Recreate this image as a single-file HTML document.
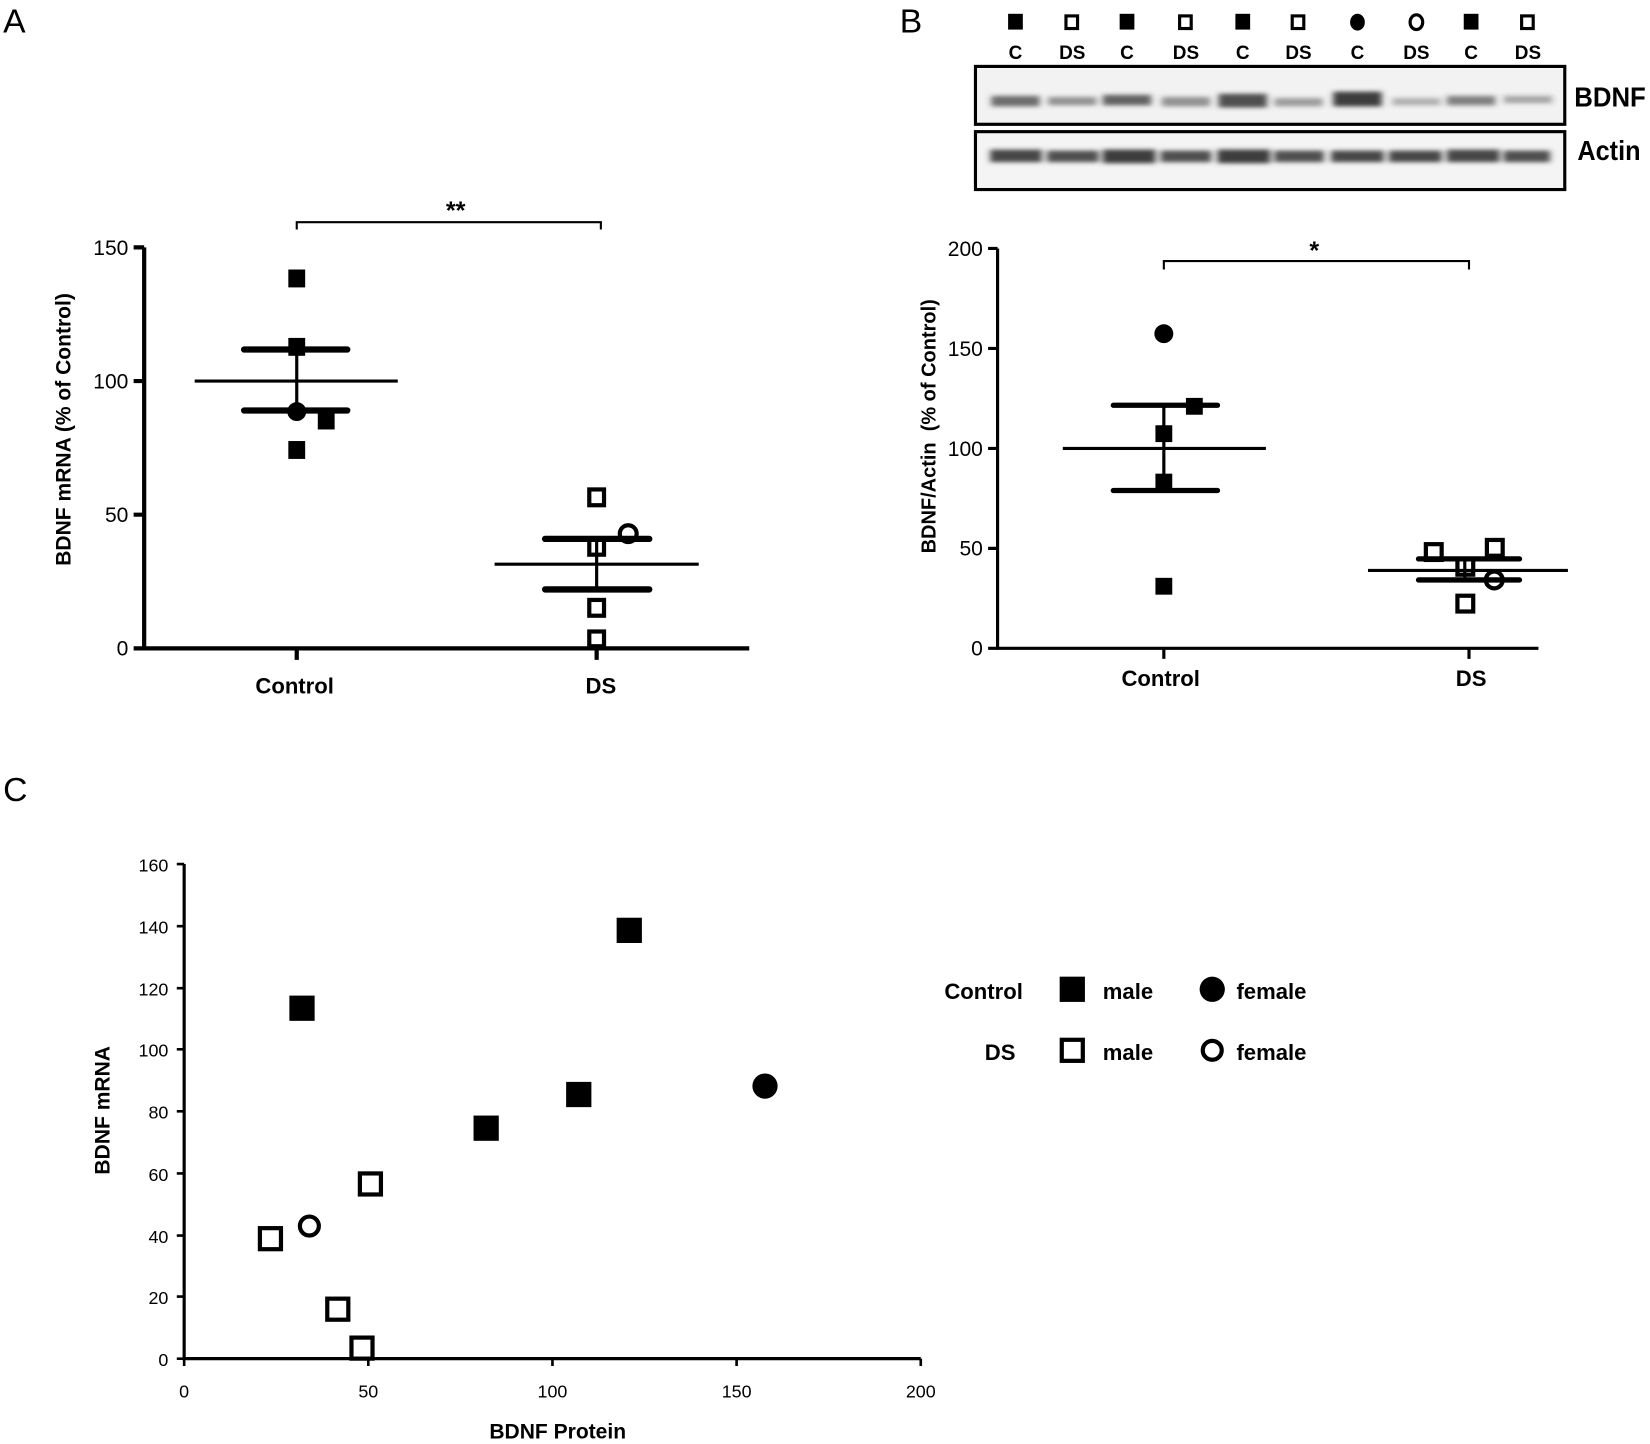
<!DOCTYPE html>
<html><head><style>html,body{margin:0;padding:0;background:#fff}svg{display:block}text{font-family:"Liberation Sans",Arial,sans-serif;fill:#000}</style></head>
<body>
<svg width="1650" height="1444" viewBox="0 0 1568 1372" xmlns="http://www.w3.org/2000/svg">
<defs><filter id="bl"><feGaussianBlur stdDeviation="3 2"/></filter></defs>
<rect x="929" y="65" width="556" height="52" fill="#f2f2f2"/>
<rect x="929" y="127" width="556" height="51" fill="#f4f4f4"/>
<g stroke="#000" fill="none">
<path d="M137 235V616H712" stroke-width="4"/>
<path d="M127 235H137M127 362H137M127 489H137M127 616H137M282 616V627M567 616V627" stroke-width="4"/>
<path d="M282 218V211H571V218" stroke-width="2"/>
<path d="M185 362H378M282 332V388" stroke-width="3"/>
<path d="M232 332H330M232 390H330" stroke-width="6" stroke-linecap="round"/>
<path d="M470 536H664M567 512V560" stroke-width="3"/>
<path d="M518 512H617M518 560H617" stroke-width="6" stroke-linecap="round"/>
<path d="M948 236V616H1462" stroke-width="3"/>
<path d="M939 236H948M939 331H948M939 426H948M939 521H948M939 616H948M1106 616V626M1396 616V626" stroke-width="3"/>
<path d="M1106 256V248H1396V256" stroke-width="2"/>
<path d="M1010 426H1203M1106 385V466" stroke-width="3"/>
<path d="M1058 385H1157M1058 466H1157" stroke-width="5" stroke-linecap="round"/>
<path d="M1300 542H1490M1392 531V551" stroke-width="3"/>
<path d="M1348 531H1444M1348 551H1444" stroke-width="5" stroke-linecap="round"/>
<path d="M175 821V1291H875" stroke-width="3"/>
<path d="M168 821H175M168 880H175M168 939H175M168 997H175M168 1056H175M168 1115H175M168 1174H175M168 1232H175M168 1291H175M175 1291V1298M350 1291V1298M525 1291V1298M700 1291V1298M875 1291V1298" stroke-width="2.5"/>
<rect x="927" y="63" width="560" height="55" stroke-width="3"/>
<rect x="927" y="125" width="560" height="55" stroke-width="3"/>
</g>
<g filter="url(#bl)" fill="#333">
<rect x="942" y="91" width="46" height="10" opacity=".7"/><rect x="996" y="92" width="46" height="8" opacity=".5"/>
<rect x="1048" y="90" width="46" height="10" opacity=".75"/><rect x="1104" y="92" width="46" height="9" opacity=".5"/>
<rect x="1158" y="89" width="46" height="13" opacity=".85"/><rect x="1211" y="93" width="46" height="8" opacity=".45"/>
<rect x="1267" y="87" width="46" height="14" opacity=".95"/><rect x="1323" y="93" width="46" height="7" opacity=".35"/>
<rect x="1375" y="91" width="46" height="9" opacity=".6"/><rect x="1429" y="91" width="46" height="7" opacity=".4"/>
<rect x="941" y="142" width="49" height="12" opacity=".9"/><rect x="995" y="143" width="49" height="11" opacity=".85"/>
<rect x="1048" y="142" width="50" height="13" opacity=".95"/><rect x="1103" y="143" width="48" height="11" opacity=".85"/>
<rect x="1157" y="142" width="50" height="13" opacity=".95"/><rect x="1211" y="143" width="47" height="11" opacity=".85"/>
<rect x="1265" y="143" width="50" height="11" opacity=".9"/><rect x="1320" y="143" width="50" height="11" opacity=".9"/>
<rect x="1375" y="142" width="50" height="12" opacity=".9"/><rect x="1429" y="143" width="44" height="11" opacity=".85"/>
</g>
<g font-size="18" font-weight="bold" text-anchor="middle">
<text x="965" y="56">C</text><text x="1019" y="56">DS</text><text x="1071" y="56">C</text><text x="1127" y="56">DS</text><text x="1181" y="56">C</text><text x="1234" y="56">DS</text><text x="1290" y="56">C</text><text x="1346" y="56">DS</text><text x="1398" y="56">C</text><text x="1452" y="56">DS</text>
</g>
<g>
<rect x="958" y="13" width="14" height="15"/><rect x="1013" y="15" width="11" height="12" fill="none" stroke="#000" stroke-width="3"/>
<rect x="1064" y="13" width="14" height="15"/><rect x="1121" y="15" width="11" height="12" fill="none" stroke="#000" stroke-width="3"/>
<rect x="1174" y="13" width="14" height="15"/><rect x="1228" y="15" width="11" height="12" fill="none" stroke="#000" stroke-width="3"/>
<ellipse cx="1290" cy="21" rx="7" ry="8"/><ellipse cx="1346" cy="21" rx="6" ry="7" fill="none" stroke="#000" stroke-width="3"/>
<rect x="1391" y="13" width="14" height="15"/><rect x="1446" y="15" width="11" height="12" fill="none" stroke="#000" stroke-width="3"/>
</g>
<text x="1530" y="101" font-size="26" font-weight="bold" text-anchor="middle" textLength="68" lengthAdjust="spacingAndGlyphs">BDNF</text>
<text x="1529" y="152" font-size="26" font-weight="bold" text-anchor="middle" textLength="60" lengthAdjust="spacingAndGlyphs">Actin</text>
<text x="3" y="31" font-size="32">A</text>
<text x="855" y="31" font-size="32">B</text>
<text x="3" y="761" font-size="32">C</text>
<g font-size="20" text-anchor="end">
<text x="122" y="242">150</text><text x="122" y="369">100</text><text x="122" y="496">50</text><text x="122" y="623">0</text>
<text x="934" y="243">200</text><text x="934" y="338">150</text><text x="934" y="433">100</text><text x="934" y="528">50</text><text x="934" y="623">0</text>
</g>
<g font-size="21" font-weight="bold" text-anchor="middle">
<text x="280" y="659">Control</text><text x="571" y="659">DS</text>
<text x="1103" y="652">Control</text><text x="1398" y="652">DS</text>
<text x="433" y="208" font-size="24">**</text><text x="1249" y="246" font-size="24">*</text>
<text transform="translate(67,408) rotate(-90)" font-size="20">BDNF mRNA (% of Control)</text>
<text transform="translate(889,405) rotate(-90)" font-size="19" xml:space="preserve">BDNF/Actin  (% of Control)</text>
<text x="530" y="1367" font-size="20">BDNF Protein</text>
<text transform="translate(104,1055) rotate(-90)" font-size="20">BDNF mRNA</text>
</g>
<g>
<rect x="274" y="256" width="16" height="17"/><rect x="274" y="321" width="16" height="17"/>
<ellipse cx="282" cy="391" rx="9" ry="9"/><rect x="302" y="391" width="16" height="17"/>
<rect x="274" y="419" width="16" height="17"/>
</g>
<g fill="none" stroke="#000" stroke-width="4">
<rect x="560" y="465" width="14" height="15"/><rect x="560" y="512" width="14" height="15"/>
<rect x="560" y="570" width="14" height="15"/><rect x="560" y="600" width="14" height="14"/>
<circle cx="597" cy="507" r="8"/>
</g>
<g>
<circle cx="1106" cy="317" r="9"/><rect x="1127" y="378" width="16" height="16"/>
<rect x="1098" y="404" width="16" height="16"/><rect x="1098" y="450" width="16" height="16"/><rect x="1098" y="549" width="16" height="16"/>
</g>
<g fill="none" stroke="#000" stroke-width="4">
<rect x="1355" y="517" width="15" height="15"/><rect x="1413" y="513" width="15" height="15"/>
<rect x="1385" y="531" width="15" height="15"/><rect x="1385" y="566" width="15" height="15"/>
<circle cx="1420" cy="551" r="8"/>
</g>
<g font-size="17" text-anchor="end">
<text x="160" y="828">160</text><text x="160" y="887">140</text><text x="160" y="946">120</text><text x="160" y="1004">100</text><text x="160" y="1063">80</text><text x="160" y="1122">60</text><text x="160" y="1181">40</text><text x="160" y="1239">20</text><text x="160" y="1298">0</text>
</g>
<g font-size="17" text-anchor="middle">
<text x="175" y="1328">0</text><text x="350" y="1328">50</text><text x="525" y="1328">100</text><text x="700" y="1328">150</text><text x="875" y="1328">200</text>
</g>
<g>
<rect x="275" y="946" width="24" height="24"/><rect x="586" y="872" width="24" height="24"/>
<rect x="450" y="1060" width="24" height="24"/><rect x="538" y="1028" width="24" height="24"/>
<circle cx="727" cy="1032" r="12"/>
</g>
<g fill="none" stroke="#000" stroke-width="4">
<rect x="247" y="1167" width="20" height="20"/><rect x="342" y="1115" width="20" height="20"/>
<rect x="311" y="1234" width="20" height="20"/><rect x="334" y="1271" width="20" height="20"/>
<circle cx="294" cy="1165" r="9"/>
</g>
<g font-size="21" font-weight="bold">
<text x="972" y="949" text-anchor="end">Control</text><text x="965" y="1007" text-anchor="end">DS</text>
<text x="1048" y="949">male</text><text x="1175" y="949">female</text>
<text x="1048" y="1007">male</text><text x="1175" y="1007">female</text>
</g>
<rect x="1007" y="928" width="24" height="24"/>
<circle cx="1152" cy="940" r="12"/>
<rect x="1009" y="988" width="20" height="20" fill="none" stroke="#000" stroke-width="4"/>
<circle cx="1152" cy="998" r="9" fill="none" stroke="#000" stroke-width="4"/>
</svg>
</body></html>
